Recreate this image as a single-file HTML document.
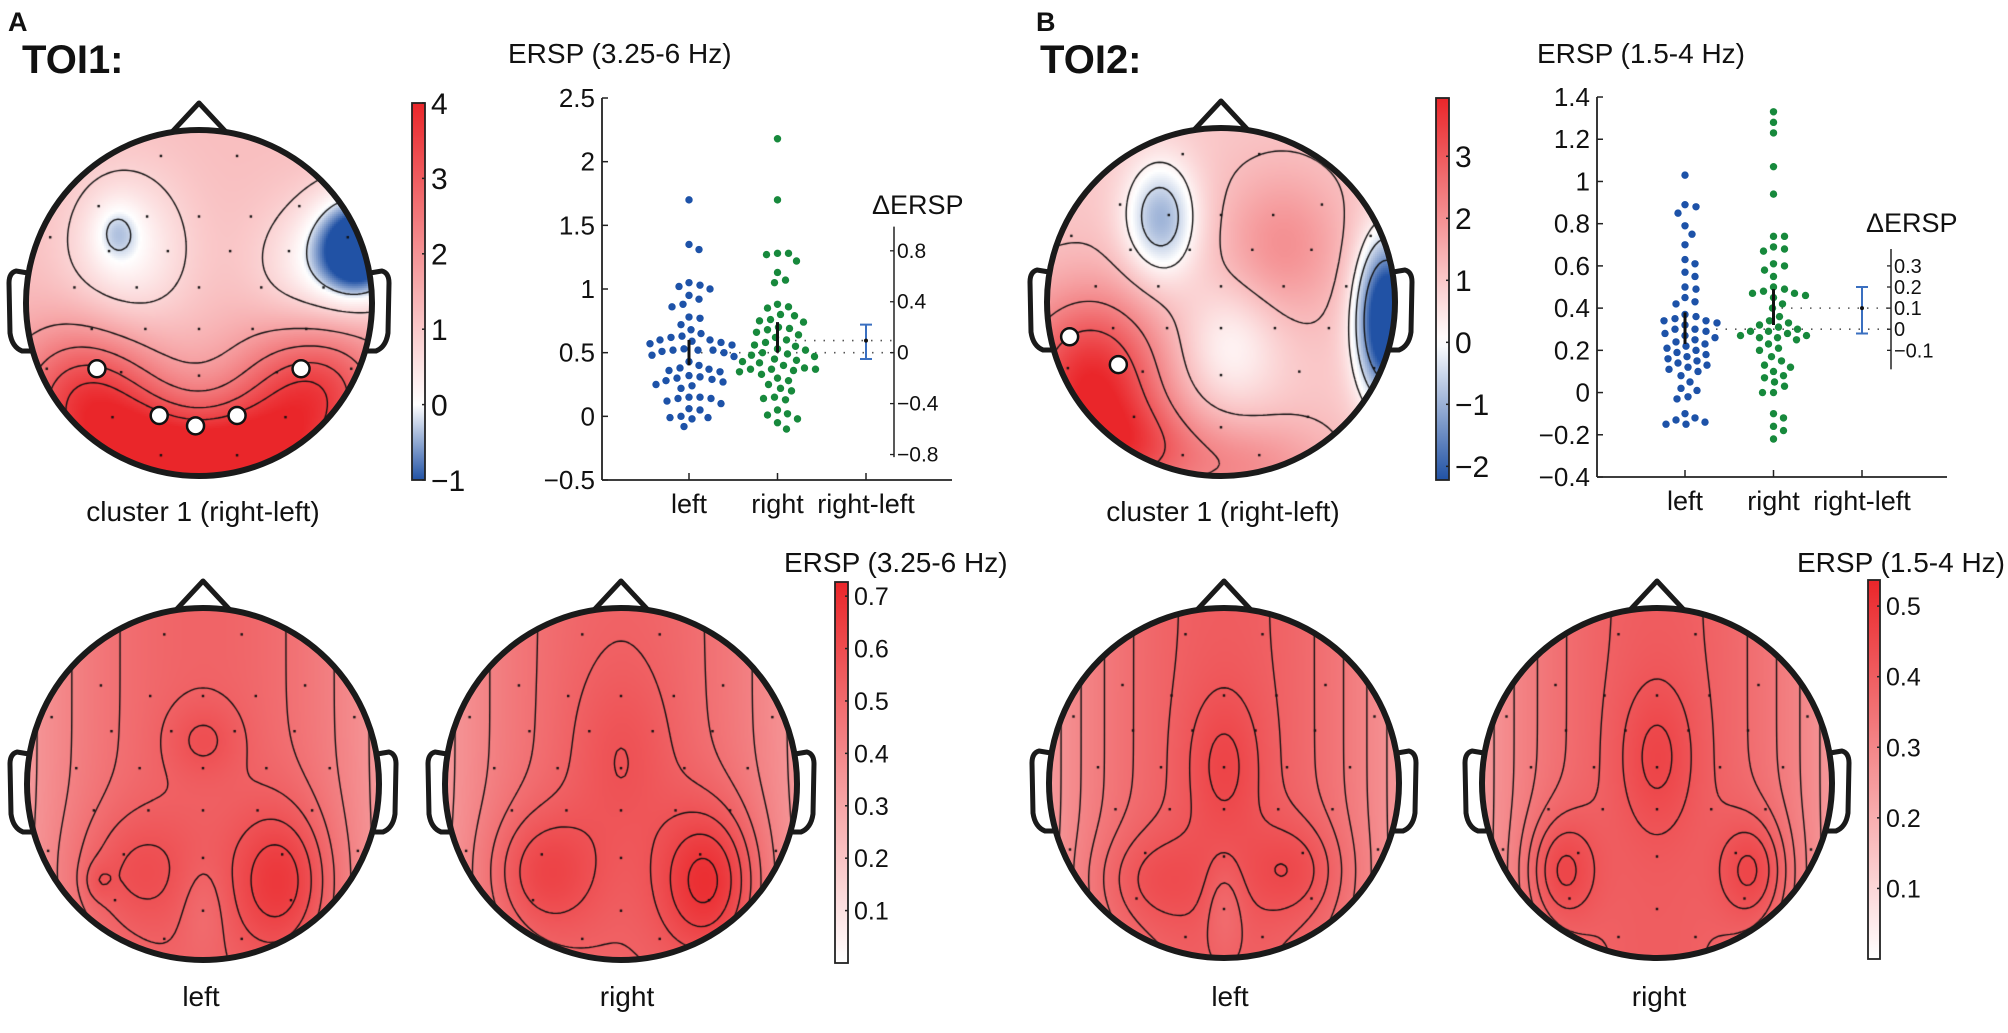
<!DOCTYPE html>
<html><head><meta charset="utf-8"><style>
html,body{margin:0;padding:0;background:#fff;}
#wrap{position:relative;width:2008px;height:1033px;overflow:hidden;}
canvas,svg{position:absolute;left:0;top:0;}
text{font-family:"Liberation Sans",sans-serif;fill:#111;}
</style></head><body>
<div id="wrap">
<canvas id="heat" width="2008" height="1033"></canvas>
<svg id="svg" width="2008" height="1033" xmlns="http://www.w3.org/2000/svg">
  <text x="8" y="31" font-size="27" font-weight="bold">A</text>
  <text x="22" y="73" font-size="40" font-weight="bold">TOI1:</text>
  <text x="1036" y="31" font-size="27" font-weight="bold">B</text>
  <text x="1040" y="73" font-size="40" font-weight="bold">TOI2:</text>
  <text x="508" y="63" font-size="28">ERSP (3.25-6 Hz)</text>
  <text x="1537" y="63" font-size="28">ERSP (1.5-4 Hz)</text>
  <text x="784" y="572" font-size="28">ERSP (3.25-6 Hz)</text>
  <text x="1797" y="572" font-size="28">ERSP (1.5-4 Hz)</text>
  <text x="203" y="521" font-size="28" text-anchor="middle">cluster 1 (right-left)</text>
  <text x="1223" y="521" font-size="28" text-anchor="middle">cluster 1 (right-left)</text>
  <text x="201" y="1006" font-size="28" text-anchor="middle">left</text>
  <text x="627" y="1006" font-size="28" text-anchor="middle">right</text>
  <text x="1230" y="1006" font-size="28" text-anchor="middle">left</text>
  <text x="1659" y="1006" font-size="28" text-anchor="middle">right</text>
</svg>
</div>
<script>
// ---------- scatter data ----------
const categories = ['left','right','right-left'];
const aLeft = [1.70,1.35,1.31,1.05,1.03,1.02,1.00,0.95,0.92,0.88,0.86,0.78,0.77,0.72,0.68,0.65,0.63,0.62,0.60,0.60,0.59,0.58,0.57,0.56,0.53,0.52,0.52,0.52,0.51,0.50,0.48,0.47,0.43,0.40,0.38,0.37,0.36,0.35,0.32,0.31,0.30,0.29,0.28,0.27,0.25,0.24,0.22,0.15,0.15,0.14,0.14,0.12,0.10,0.06,0.05,0.00,-0.01,-0.01,-0.02,-0.08];
const aRight = [2.18,1.70,1.28,1.28,1.27,1.22,1.13,1.07,1.05,0.88,0.86,0.85,0.80,0.79,0.76,0.75,0.74,0.70,0.69,0.68,0.66,0.64,0.62,0.60,0.58,0.56,0.55,0.53,0.52,0.50,0.49,0.48,0.47,0.45,0.44,0.43,0.42,0.40,0.38,0.37,0.37,0.37,0.36,0.35,0.33,0.30,0.28,0.25,0.22,0.20,0.15,0.14,0.13,0.05,0.02,0.01,-0.02,-0.05,-0.10];
const bLeft = [1.03,0.89,0.88,0.85,0.79,0.75,0.70,0.63,0.61,0.57,0.55,0.50,0.49,0.45,0.43,0.42,0.37,0.36,0.35,0.34,0.34,0.33,0.32,0.30,0.30,0.29,0.28,0.27,0.26,0.25,0.24,0.23,0.22,0.21,0.20,0.19,0.18,0.17,0.16,0.15,0.14,0.13,0.12,0.11,0.10,0.08,0.05,0.02,0.01,-0.02,-0.03,-0.10,-0.12,-0.13,-0.14,-0.15,-0.15];
const bRight = [1.33,1.28,1.23,1.07,0.94,0.74,0.74,0.69,0.68,0.67,0.61,0.60,0.58,0.55,0.50,0.49,0.48,0.47,0.47,0.46,0.45,0.42,0.40,0.36,0.34,0.33,0.32,0.31,0.30,0.29,0.29,0.28,0.27,0.27,0.26,0.26,0.25,0.23,0.21,0.20,0.17,0.15,0.13,0.12,0.10,0.08,0.07,0.05,0.03,0.00,0.00,-0.10,-0.12,-0.16,-0.18,-0.22];
// means and confidence intervals [mean, lo, hi]
const aLeftStat = [0.50,0.40,0.60];
const aRightStat = [0.595,0.50,0.74];
const aDiffStat = [0.095,-0.05,0.22];
const bLeftStat = [0.30,0.23,0.38];
const bRightStat = [0.40,0.32,0.49];
const bDiffStat = [0.10,-0.02,0.20];
const aTicks = [2.5,2,1.5,1,0.5,0,-0.5];
const aTickLabels = ['2.5','2','1.5','1','0.5','0','\u22120.5'];
const aDeltaTicks = [0.8,0.4,0,-0.4,-0.8];
const aDeltaLabels = ['0.8','0.4','0','\u22120.4','\u22120.8'];
const bTicks = [1.4,1.2,1,0.8,0.6,0.4,0.2,0,-0.2,-0.4];
const bTickLabels = ['1.4','1.2','1','0.8','0.6','0.4','0.2','0','\u22120.2','\u22120.4'];
const bDeltaTicks = [0.3,0.2,0.1,0,-0.1];
const bDeltaLabels = ['0.3','0.2','0.1','0','\u22120.1'];
// colorbar ticks
const cbATopTicks = [4,3,2,1,0,-1];
const cbBTopTicks = [3,2,1,0,-1,-2];
const cbABotTicks = [0.7,0.6,0.5,0.4,0.3,0.2,0.1];
const cbBBotTicks = [0.5,0.4,0.3,0.2,0.1];

const NS='http://www.w3.org/2000/svg';
const svg=document.getElementById('svg');
function mk(tag,attrs,parent){const e=document.createElementNS(NS,tag);for(const k in attrs)e.setAttribute(k,attrs[k]);(parent||svg).appendChild(e);return e;}

// ---------- scatter plots ----------
function scatter(cfg){
  const g=mk('g',{});
  
  
  const y=v=>cfg.yBot-(v-cfg.vmin)*cfg.ppu;
  const cx=[cfg.cat0,cfg.cat0+cfg.catStep,cfg.cat0+2*cfg.catStep];
  const ya=mk('line',{x1:cfg.x0,y1:y(cfg.vmax),x2:cfg.x0,y2:cfg.yBot,stroke:'#222','stroke-width':1.8},g);
  
  
  const xa=mk('line',{x1:cfg.x0,y1:cfg.yBot,x2:cfg.x1,y2:cfg.yBot,stroke:'#222','stroke-width':1.8},g);
  
  
  cfg.ticks.forEach((t,i)=>{
    const tk=mk('line',{x1:cfg.x0,y1:y(t),x2:cfg.x0+6,y2:y(t),stroke:'#222','stroke-width':1.5},g);
    
    
    const tl=mk('text',{x:cfg.x0-7,y:y(t)+9,'font-size':26,'text-anchor':'end'},g);
    tl.textContent=cfg.tickLabels[i];
    
    
  });
  categories.forEach((c,i)=>{
    const tk=mk('line',{x1:cx[i],y1:cfg.yBot,x2:cx[i],y2:cfg.yBot-7,stroke:'#222','stroke-width':1.5},g);
    
    
    const tl=mk('text',{x:cx[i],y:cfg.yBot+33,'font-size':27,'text-anchor':'middle'},g);
    tl.textContent=c;
    
    
  });
  [[cfg.lStat[0],cx[0]+12],[cfg.rStat[0],cx[1]+8]].forEach(p=>{
    const dl=mk('line',{x1:p[1],y1:y(p[0]),x2:cfg.dx,y2:y(p[0]),stroke:'#555','stroke-width':1.6,'stroke-dasharray':'1.5 8'},g);
    
    
  });
  [[cfg.left,cx[0],'#1d52a8'],[cfg.right,cx[1],'#17893c']].forEach((ser,si)=>{
    const placed=[];const r=3.7,d=10.5;
    ser[0].forEach(v=>{
      const py=y(v);let off=0;
      for(let k=0;k<300;k++){
        const cand=(k%2?1:-1)*Math.ceil(k/2)*1.0;
        if(placed.every(p=>Math.hypot(p[0]-cand,p[1]-py)>=d)){off=cand;break;}
      }
      placed.push([off,py]);
      const c=mk('circle',{cx:ser[1]+off,cy:py,r:r,fill:ser[2]},g);
      
      
    });
  });
  [[cfg.lStat,cx[0]],[cfg.rStat,cx[1]]].forEach(p=>{
    const b=mk('line',{x1:p[1],y1:y(p[0][1]),x2:p[1],y2:y(p[0][2]),stroke:'#111','stroke-width':3},g);
    
    
  });
  const base=cfg.lStat[0];
  const dy=d=>y(base+d);
  const da=mk('line',{x1:cfg.dx,y1:dy(cfg.dTop),x2:cfg.dx,y2:dy(cfg.dBot),stroke:'#222','stroke-width':1.5},g);
  
  
  cfg.dTicks.forEach((t,i)=>{
    const tk=mk('line',{x1:cfg.dx-4,y1:dy(t),x2:cfg.dx,y2:dy(t),stroke:'#222','stroke-width':1.3},g);
    
    
    const tl=mk('text',{x:cfg.dx+3,y:dy(t)+7,'font-size':cfg.dFont},g);
    tl.textContent=cfg.dLabels[i];
    
    
  });
  const dt=mk('text',{x:cfg.dLabelX,y:cfg.dLabelY,'font-size':27},g);
  dt.textContent='\u0394ERSP';
  
  
  const x3=cx[2];
  const eb=mk('path',{d:`M${x3},${dy(cfg.dStat[1])}V${dy(cfg.dStat[2])}M${x3-6},${dy(cfg.dStat[1])}H${x3+6}M${x3-6},${dy(cfg.dStat[2])}H${x3+6}`,stroke:'#3a6fc0','stroke-width':2,fill:'none'},g);
  
  
  const dm=mk('circle',{cx:x3,cy:dy(cfg.dStat[0]),r:2,fill:'#111'},g);
  
  
}
scatter({name:'scatter-a',x0:602,x1:952,yBot:480,vmin:-0.5,vmax:2.5,ppu:127.33,cat0:689,catStep:88.5,
  ticks:aTicks,tickLabels:aTickLabels,left:aLeft,right:aRight,lStat:aLeftStat,rStat:aRightStat,dStat:aDiffStat,
  dx:894,dTop:0.99,dBot:-0.82,dTicks:aDeltaTicks,dLabels:aDeltaLabels,dFont:21,dLabelX:872,dLabelY:214});
scatter({name:'scatter-b',x0:1597,x1:1947,yBot:477,vmin:-0.4,vmax:1.4,ppu:211.1,cat0:1685,catStep:88.5,
  ticks:bTicks,tickLabels:bTickLabels,left:bLeft,right:bRight,lStat:bLeftStat,rStat:bRightStat,dStat:bDiffStat,
  dx:1891,dTop:0.38,dBot:-0.19,dTicks:bDeltaTicks,dLabels:bDeltaLabels,dFont:20,dLabelX:1866,dLabelY:232});

// ---------- topomaps ----------
const RED=[234,38,42],BLUE=[33,82,165];
function col(v,vmin,vmax){
  let c,t;
  if(v>=0){t=Math.min(1,v/vmax);c=RED;}else{t=Math.min(1,v/vmin);c=BLUE;}
  return [255+(c[0]-255)*t,255+(c[1]-255)*t,255+(c[2]-255)*t].map(Math.round);
}
const mapATop={name:'topomap-a-cluster',cx:199,cy:303,r:173,vmin:-1,vmax:4,base:1.2,quad:0,
 blobs:[[-0.65,0.55,2.3,0.3,0.3],[0.65,0.5,2.3,0.3,0.3],[0,1.05,3.0,0.45,0.3],[-0.3,0.9,1.0,0.25,0.25],[0.3,0.9,1.0,0.25,0.25],
 [-0.48,-0.42,-0.6,0.1,0.13],[-0.42,-0.3,-1.05,0.25,0.33],[0.92,-0.32,-3.0,0.18,0.22],[0.6,-0.15,-0.8,0.22,0.3]],
 levels:[-0.2,0.8,1.8,2.5,3.1,3.6],white:[[-0.59,0.38],[-0.23,0.65],[-0.02,0.71],[0.22,0.65],[0.59,0.38]]};
const mapBTop={name:'topomap-b-cluster',cx:1221,cy:302,r:174,vmin:-2.22,vmax:3.9,base:1.0,quad:0,
 blobs:[[-0.35,-0.48,-2.0,0.15,0.24],[0.35,-0.33,1.0,0.25,0.3],[0.95,0.1,-4.5,0.12,0.32],[-0.75,0.45,2.8,0.3,0.35],[-0.55,0.85,1.5,0.3,0.2],[0.05,0.25,-0.9,0.2,0.25],[0.15,0.95,1.0,0.35,0.2]],
 levels:[-1.5,-0.5,0.2,1.2,2.2,3.0],white:[[-0.87,0.2],[-0.59,0.36]]};
const mapABotL={name:'topomap-a-left',cx:203,cy:784,r:176,vmin:-1,vmax:0.727,base:0.52,quad:-0.18,
 blobs:[[0,-0.25,0.07,0.15,0.15],[0.45,0.55,0.18,0.2,0.3],[-0.4,0.5,0.1,0.25,0.25],[-0.6,0.55,0.05,0.06,0.08],[0,0.7,-0.05,0.1,0.2]],
 levels:[0.36,0.42,0.48,0.53,0.58,0.63],white:[]};
const mapABotR={name:'topomap-a-right',cx:621,cy:784,r:176,vmin:-1,vmax:0.727,base:0.52,quad:-0.18,
 blobs:[[0,-0.15,0.06,0.2,0.35],[0.5,0.55,0.22,0.2,0.3],[-0.45,0.5,0.14,0.22,0.25]],
 levels:[0.36,0.42,0.48,0.53,0.58,0.63,0.68],white:[]};
const mapBBotL={name:'topomap-b-left',cx:1224,cy:783,r:175,vmin:-1,vmax:0.535,base:0.4,quad:-0.15,
 blobs:[[0,-0.1,0.06,0.15,0.3],[0.4,0.5,0.07,0.2,0.2],[-0.4,0.55,0.06,0.25,0.2],[0,0.7,-0.05,0.08,0.2]],
 levels:[0.27,0.3,0.33,0.36,0.39,0.42,0.45],white:[]};
const mapBBotR={name:'topomap-b-right',cx:1657,cy:783,r:175,vmin:-1,vmax:0.535,base:0.4,quad:-0.15,
 blobs:[[-0.55,0.5,0.1,0.14,0.22],[0.55,0.5,0.1,0.14,0.22],[0,-0.15,0.06,0.15,0.3]],
 levels:[0.27,0.3,0.33,0.36,0.39,0.42,0.45,0.48],white:[]};
const electrodes=[[-0.22,-0.85],[0.22,-0.85],[-0.58,-0.56],[-0.3,-0.5],[0,-0.5],[0.3,-0.5],[0.58,-0.56],
 [-0.86,-0.38],[-0.52,-0.3],[-0.18,-0.3],[0.18,-0.3],[0.52,-0.3],[0.86,-0.38],
 [-0.72,-0.09],[-0.36,-0.09],[0,-0.09],[0.36,-0.09],[0.72,-0.09],
 [-0.62,0.15],[-0.31,0.15],[0,0.15],[0.31,0.15],[0.62,0.15],
 [-0.88,0.38],[-0.45,0.4],[0,0.42],[0.45,0.4],[0.88,0.38],[-0.5,0.66],[0,0.72],[0.5,0.66],[-0.22,0.88],[0.22,0.88]];

const ctx=document.getElementById('heat').getContext('2d');
function field(m,x,y){let v=m.base+m.quad*x*x;for(const b of m.blobs){v+=b[2]*Math.exp(-((x-b[0])**2/(2*b[3]*b[3])+(y-b[1])**2/(2*b[4]*b[4])));}return v;}
function drawMap(m){
  ctx.save();ctx.beginPath();ctx.arc(m.cx,m.cy,m.r,0,Math.PI*2);ctx.clip();
  const s=2;
  for(let py=m.cy-m.r;py<m.cy+m.r;py+=s)for(let px=m.cx-m.r;px<m.cx+m.r;px+=s){
    const v=field(m,(px-m.cx)/m.r,(py-m.cy)/m.r);const c=col(v,m.vmin,m.vmax);
    ctx.fillStyle=`rgb(${c[0]},${c[1]},${c[2]})`;ctx.fillRect(px,py,s,s);
  }
  const st=4,n=Math.ceil(2*m.r/st)+1,x0=m.cx-m.r,y0=m.cy-m.r;
  const F=[];for(let j=0;j<n;j++){F[j]=[];for(let i=0;i<n;i++)F[j][i]=field(m,(x0+i*st-m.cx)/m.r,(y0+j*st-m.cy)/m.r);}
  ctx.strokeStyle='#111';ctx.lineWidth=1.4;
  for(const L of m.levels){
    ctx.beginPath();
    for(let j=0;j<n-1;j++)for(let i=0;i<n-1;i++){
      const a=F[j][i],b=F[j][i+1],c=F[j+1][i+1],d=F[j+1][i];
      const pts=[];
      const X=i*st+x0,Y=j*st+y0;
      if((a<L)!==(b<L))pts.push([X+st*(L-a)/(b-a),Y]);
      if((b<L)!==(c<L))pts.push([X+st,Y+st*(L-b)/(c-b)]);
      if((d<L)!==(c<L))pts.push([X+st*(L-d)/(c-d),Y+st]);
      if((a<L)!==(d<L))pts.push([X,Y+st*(L-a)/(d-a)]);
      for(let k=0;k+1<pts.length;k+=2){ctx.moveTo(pts[k][0],pts[k][1]);ctx.lineTo(pts[k+1][0],pts[k+1][1]);}
    }
    ctx.stroke();
  }
  ctx.fillStyle='#111';
  for(const e of electrodes){ctx.fillRect(m.cx+e[0]*m.r-1.2,m.cy+e[1]*m.r-1.2,2.4,2.4);}
  ctx.restore();
  const g=mk('g',{fill:'none',stroke:'#1a1a1a','stroke-width':6,'stroke-linejoin':'round'});
  
  
  const R=m.r,cx=m.cx,cy=m.cy;
  const nose=mk('path',{d:`M${cx-27},${cy-R+2}L${cx},${cy-R-27}L${cx+27},${cy-R+2}`,'stroke-width':5},g);
  
  
  const ear1=mk('path',{d:`M${cx-R+2},${cy-30}L${cx-R-10},${cy-32}Q${cx-R-17},${cy-30} ${cx-R-17},${cy-20}L${cx-R-16},${cy+30}Q${cx-R-14},${cy+44} ${cx-R-4},${cy+48}L${cx-R+6},${cy+48}`,'stroke-width':5},g);
  
  
  const ear2=mk('path',{d:`M${cx+R-2},${cy-30}L${cx+R+10},${cy-32}Q${cx+R+17},${cy-30} ${cx+R+17},${cy-20}L${cx+R+16},${cy+30}Q${cx+R+14},${cy+44} ${cx+R+4},${cy+48}L${cx+R-6},${cy+48}`,'stroke-width':5},g);
  
  
  const head=mk('circle',{cx:cx,cy:cy,r:R},g);
  
  
  m.white.forEach(w=>{
    const c=mk('circle',{cx:cx+w[0]*R,cy:cy+w[1]*R,r:8.5,fill:'#fff',stroke:'#111','stroke-width':2.5},g);
    
    
  });
}
[mapATop,mapBTop,mapABotL,mapABotR,mapBBotL,mapBBotR].forEach(drawMap);

// ---------- colorbars ----------
function colorbar(cb){
  const h=cb.y1-cb.y0;
  const defs=mk('defs',{});
  const gr=mk('linearGradient',{id:cb.id,x1:0,y1:0,x2:0,y2:1},defs);
  for(let k=0;k<=40;k++){
    const v=cb.vmax-(cb.vmax-cb.vmin)*k/40;
    const c=col(v,cb.vmin<0?cb.vmin:-1,cb.vmax);
    mk('stop',{offset:k/40,'stop-color':`rgb(${c[0]},${c[1]},${c[2]})`},gr);
  }
  const g=mk('g',{});
  
  
  const r=mk('rect',{x:cb.x,y:cb.y0,width:cb.w,height:h,fill:`url(#${cb.id})`,stroke:'#222','stroke-width':1.8},g);
  
  
  const yv=v=>cb.y0+(cb.vmax-v)/(cb.vmax-cb.vmin)*h;
  cb.ticks.forEach(t=>{
    const tk=mk('line',{x1:cb.x+cb.w-3,y1:yv(t),x2:cb.x+cb.w,y2:yv(t),stroke:'#222','stroke-width':1.5},g);
    
    
    const tl=mk('text',{x:cb.x+cb.w+6,y:yv(t)+cb.fs*0.36,'font-size':cb.fs},g);
    tl.textContent=(t<0?'\u2212':'')+Math.abs(t);
    
    
  });
}
colorbar({id:'g1',name:'colorbar-a-cluster',x:412,w:13,y0:103,y1:480,vmin:-1,vmax:4,ticks:cbATopTicks,fs:30});
colorbar({id:'g2',name:'colorbar-b-cluster',x:1436,w:13,y0:98,y1:480,vmin:-2.22,vmax:3.94,ticks:cbBTopTicks,fs:30});
colorbar({id:'g3',name:'colorbar-a-bottom',x:835,w:13,y0:582,y1:963,vmin:0,vmax:0.727,ticks:cbABotTicks,fs:25});
colorbar({id:'g4',name:'colorbar-b-bottom',x:1868,w:12,y0:580,y1:959,vmin:0,vmax:0.537,ticks:cbBBotTicks,fs:25});
</script>
</body></html>
